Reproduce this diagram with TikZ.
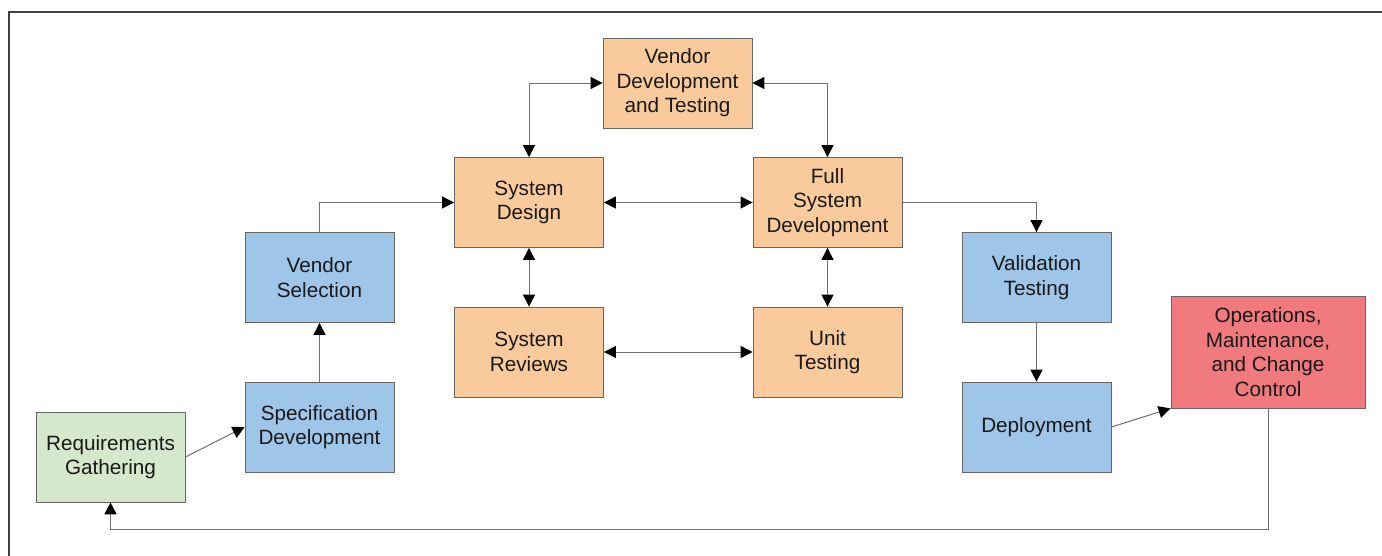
\documentclass[tikz,border=0pt]{standalone}
\usepackage{fontspec}
\setmainfont{Liberation Sans}
\usetikzlibrary{arrows.meta}
\definecolor{orng}{HTML}{F9CB9C}
\definecolor{blu}{HTML}{9FC5E8}
\definecolor{grn}{HTML}{D6E8CC}
\definecolor{rd}{HTML}{F17A7E}
\definecolor{boxline}{HTML}{666666}
\definecolor{lineclr}{HTML}{707070}
\definecolor{framec}{HTML}{404040}
\begin{document}
\begin{tikzpicture}[x=1pt,y=-1pt,
  box/.style={draw=boxline, line width=0.8pt, minimum width=149pt, minimum height=90pt,
    align=center, inner sep=0pt, text=black!90, font=\fontsize{20.7}{24.5}\selectfont},
  conn/.style={draw=lineclr, line width=1pt, -{Triangle[length=12pt,width=12pt,color=black]}},
  bconn/.style={draw=lineclr, line width=1pt, {Triangle[length=12pt,width=12pt,color=black]}-{Triangle[length=12pt,width=12pt,color=black]}}]
\useasboundingbox (0,0) rectangle (1382,555);
\draw[framec, line width=1.6pt] (9,12) rectangle (1400,575);

\node[box, fill=orng] (vdt) at (677.5,83) {Vendor\\Development\\and Testing};
\node[box, fill=orng] (sd) at (529,202.5) {System\\Design};
\node[box, fill=orng] (fsd) at (827.5,202.5) {Full\\System\\Development};
\node[box, fill=orng] (sr) at (529,352) {System\\Reviews};
\node[box, fill=orng] (ut) at (827.5,352) {Unit\\Testing};
\node[box, fill=blu] (vs) at (319.5,277.5) {Vendor\\Selection};
\node[box, fill=blu] (spec) at (319.5,427) {Specification\\Development};
\node[box, fill=grn] (req) at (110.5,457) {Requirements\\Gathering};
\node[box, fill=blu] (vt) at (1036.5,277.5) {Validation\\Testing};
\node[box, fill=blu] (dep) at (1036.5,427) {Deployment};
\node[box, fill=rd, minimum width=194pt, minimum height=112pt] (ops) at (1268,352) {Operations,\\Maintenance,\\and Change\\Control};

\coordinate (loopc) at (1268,529.5);

\draw[conn] (req.east) -- (spec.west);
\draw[conn] (spec.north) -- (vs.south);
\draw[conn] (vs.north) |- (sd.west);
\draw[bconn] (sd.north) |- (vdt.west);
\draw[bconn] (vdt.east) -| (fsd.north);
\draw[bconn] (sd.east) -- (fsd.west);
\draw[bconn] (sd.south) -- (sr.north);
\draw[bconn] (fsd.south) -- (ut.north);
\draw[bconn] (sr.east) -- (ut.west);
\draw[conn] (fsd.east) -| (vt.north);
\draw[conn] (vt.south) -- (dep.north);
\draw[conn] (dep.east) -- (ops.south west);
\draw[conn] (ops.south) -- (loopc) -| (req.south);
\end{tikzpicture}
\end{document}
